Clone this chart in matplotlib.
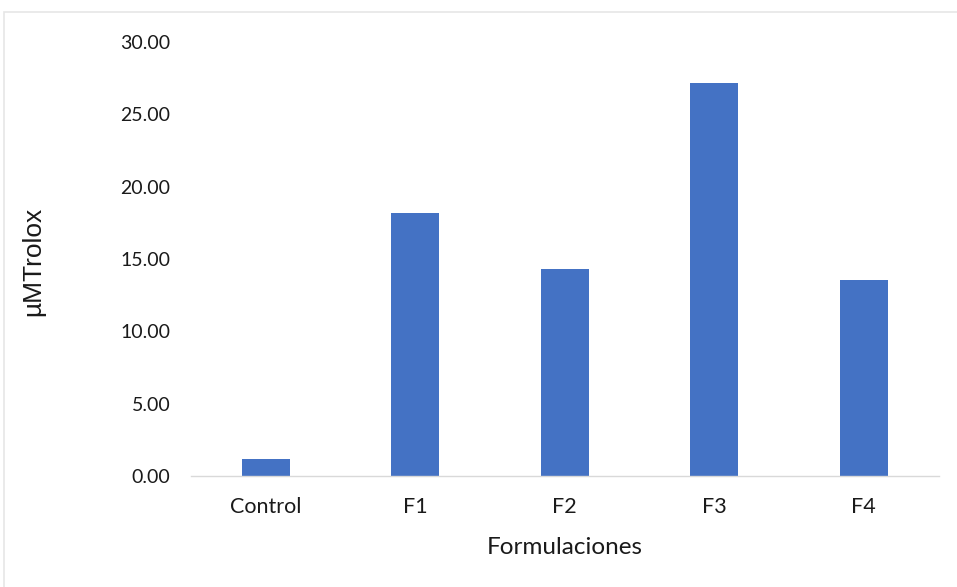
import matplotlib

matplotlib.use("Agg")
import matplotlib.pyplot as plt  # noqa: E402
from matplotlib.patches import Rectangle  # noqa: E402
from matplotlib.ticker import FormatStrFormatter, MultipleLocator  # noqa: E402

categories = ["Control", "F1", "F2", "F3", "F4"]
trolox = [1.17, 18.2, 14.3, 27.2, 13.55]
y_max = 30.0

BAR_COLOR = "#4472C4"
TEXT_COLOR = "#1a1a1a"
W, H = 957, 587

fig = plt.figure(figsize=(W / 100, H / 100), dpi=100)
ax = fig.add_axes([0.1996, 0.1891, 0.7811, 0.7393])

ax.bar(range(len(categories)), trolox, width=0.32, color=BAR_COLOR)
ax.set_xlim(-0.5, len(categories) - 0.5)
ax.set_ylim(0, y_max)
ax.set_xticks(range(len(categories)))
ax.set_xticklabels(categories)
ax.yaxis.set_major_locator(MultipleLocator(5))
ax.yaxis.set_major_formatter(FormatStrFormatter("%.2f"))

for side in ("top", "right", "left"):
    ax.spines[side].set_visible(False)
ax.spines["bottom"].set_color("#d9d9d9")
ax.spines["bottom"].set_linewidth(1.0)
ax.tick_params(length=0, labelcolor=TEXT_COLOR)
ax.tick_params(axis="x", labelsize=15.5, pad=15)
ax.tick_params(axis="y", labelsize=14, pad=15)
for label in ax.get_xticklabels() + ax.get_yticklabels():
    label.set_family("Lato")

# axis titles placed in figure coordinates
fig.text(565 / W, 1 - 548 / H, "Formulaciones", fontsize=17.5, family="Lato",
         color=TEXT_COLOR, ha="center", va="center")
fig.text(33 / W, 1 - 261 / H, "µMTrolox", fontsize=19, family="Liberation Sans",
         color=TEXT_COLOR, rotation=90, ha="center", va="center")

# light chart-area frame, clipped at the right and bottom
fig.patches.append(Rectangle((4 / W, -0.1), 1.1, (H - 12) / H + 0.1,
                             transform=fig.transFigure, fill=False,
                             edgecolor="#e6e6e6", linewidth=1.2))

fig.savefig("out.png", dpi=100)
plt.close(fig)
